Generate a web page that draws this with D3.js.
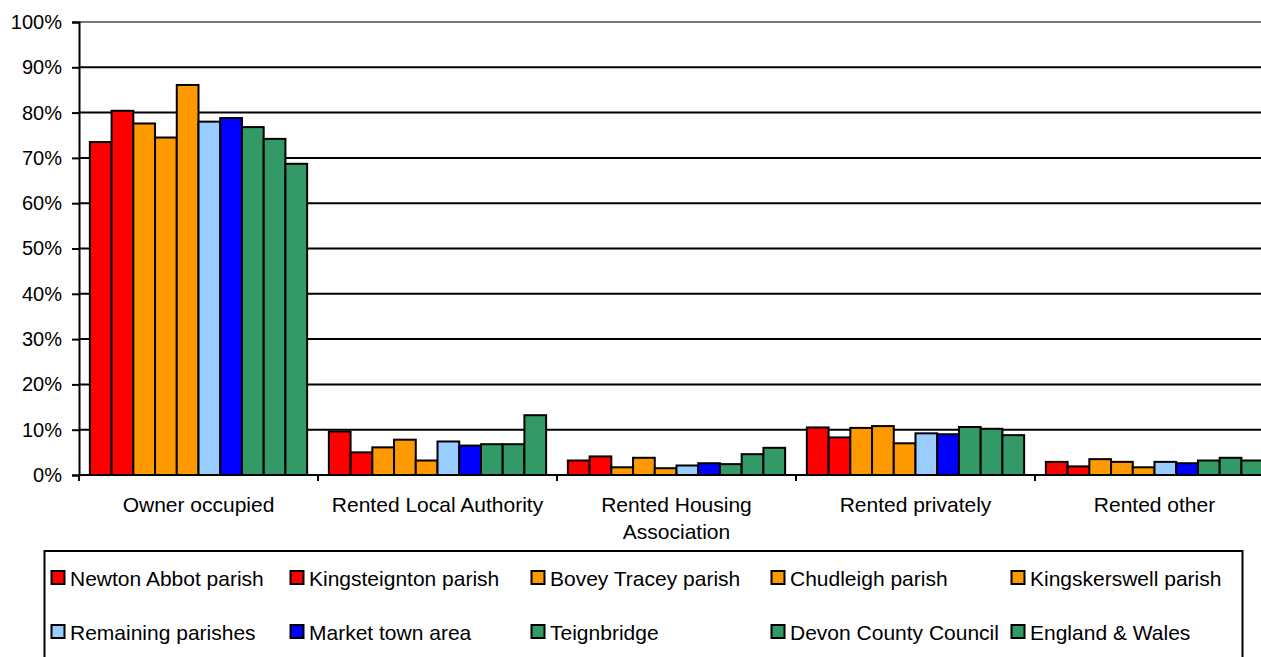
<!DOCTYPE html>
<html>
<head>
<meta charset="utf-8">
<script src="https://cdn.jsdelivr.net/npm/d3@7"></script>
<style>
  html, body { margin: 0; padding: 0; background: #fff; overflow: hidden; }
  text { font-family: "Liberation Sans", Arial, sans-serif; fill: #000; }
</style>
</head>
<body>
<svg id="chart" width="1261" height="657"></svg>
<script>
// ---- data ----
const categories = ["Owner occupied", "Rented Local Authority", "Rented Housing Association", "Rented privately", "Rented other"];
const seriesNames = ["Newton Abbot parish", "Kingsteignton parish", "Bovey Tracey parish", "Chudleigh parish", "Kingskerswell parish",
                     "Remaining parishes", "Market town area", "Teignbridge", "Devon County Council", "England & Wales"];
const seriesColors = ["#FF0000", "#FF0000", "#FF9900", "#FF9900", "#FF9900", "#99CCFF", "#0000FF", "#339966", "#339966", "#339966"];
const newtonAbbot   = [73.5, 9.6, 3.2, 10.5, 2.9];
const kingsteignton = [80.4, 5.0, 4.1, 8.3, 1.9];
const boveyTracey   = [77.6, 6.1, 1.7, 10.4, 3.5];
const chudleigh     = [74.5, 7.8, 3.8, 10.8, 2.9];
const kingskerswell = [86.1, 3.2, 1.5, 7.0, 1.7];
const remaining     = [78.0, 7.4, 2.1, 9.2, 2.9];
const marketTown    = [78.8, 6.5, 2.6, 9.0, 2.6];
const teignbridge   = [76.8, 6.8, 2.4, 10.6, 3.2];
const devon         = [74.2, 6.8, 4.6, 10.2, 3.8];
const englandWales  = [68.7, 13.2, 6.0, 8.8, 3.2];
const seriesValues = [newtonAbbot, kingsteignton, boveyTracey, chudleigh, kingskerswell,
                      remaining, marketTown, teignbridge, devon, englandWales];
const yTicks = [0, 10, 20, 30, 40, 50, 60, 70, 80, 90, 100];

// ---- layout ----
const svg = d3.select("#chart");
const plotLeft = 79, plotTop = 22, plotBottom = 475, groupW = 239;
const plotRight = plotLeft + groupW * categories.length;

const x0 = d3.scaleBand().domain(categories).range([plotLeft, plotRight]).paddingInner(0).paddingOuter(0);
const x1 = d3.scaleBand().domain(d3.range(seriesNames.length)).range([0, x0.bandwidth()])
  .paddingInner(0).paddingOuter(0.5);
const y = d3.scaleLinear().domain([0, 100]).range([plotBottom, plotTop]);

// gridlines
svg.append("g").selectAll("line").data(yTicks.filter(d => d > 0)).join("line")
  .attr("x1", plotLeft).attr("x2", plotRight)
  .attr("y1", d => y(d)).attr("y2", d => y(d))
  .attr("stroke", d => d === 100 ? "#777" : "#000")
  .attr("stroke-width", 2);

// bars
const groups = svg.append("g").selectAll("g").data(categories).join("g")
  .attr("transform", d => `translate(${x0(d)},0)`);
groups.selectAll("rect").data((c, ci) => seriesValues.map((s, si) => ({si, v: s[ci]}))).join("rect")
  .attr("x", d => x1(d.si))
  .attr("width", x1.bandwidth())
  .attr("y", d => y(d.v))
  .attr("height", d => y(0) - y(d.v))
  .attr("fill", d => seriesColors[d.si])
  .attr("stroke", "#000").attr("stroke-width", 2);

// y axis
const yAxis = d3.axisLeft(y).tickValues(yTicks).tickFormat(d => d + "%").tickSize(7).tickPadding(10);
const ga = svg.append("g").attr("transform", `translate(${plotLeft},0)`).call(yAxis);
ga.select(".domain").attr("stroke", "#000").attr("stroke-width", 2);
ga.selectAll(".tick line").attr("stroke", "#000").attr("stroke-width", 2);
ga.selectAll(".tick text").style("font-family", "Liberation Sans, Arial, sans-serif").style("font-size", "20px").attr("fill", "#000");

// x axis line and ticks
const xb = d3.axisBottom(x0).tickSize(0).tickFormat("");
const gx = svg.append("g").attr("transform", `translate(0,${plotBottom})`).call(xb);
gx.select(".domain").attr("stroke", "#000").attr("stroke-width", 2).attr("d", `M${plotLeft},0H${plotRight}`);
svg.append("g").selectAll("line").data(categories.map((c) => x0(c)).concat([plotRight])).join("line")
  .attr("x1", d => d).attr("x2", d => d).attr("y1", plotBottom).attr("y2", plotBottom + 6)
  .attr("stroke", "#000").attr("stroke-width", 2);

// category labels with wrapping
const labelMax = 232;
svg.append("g").selectAll("text").data(categories).join("text")
  .attr("text-anchor", "middle")
  .style("font-size", "21px")
  .each(function(d) {
    const t = d3.select(this);
    const cx = x0(d) + x0.bandwidth() / 2;
    const words = d.split(" ");
    let lines = [], cur = [];
    const tmp = t.append("tspan");
    words.forEach(w => {
      const test = cur.concat([w]).join(" ");
      tmp.text(test);
      if (tmp.node().getComputedTextLength() > labelMax && cur.length) { lines.push(cur.join(" ")); cur = [w]; }
      else cur.push(w);
    });
    lines.push(cur.join(" "));
    tmp.remove();
    lines.forEach((l, i) => t.append("tspan").attr("x", cx).attr("y", 512 + i * 27).text(l));
  });

// legend
svg.append("rect").attr("x", 44.5).attr("y", 551).attr("width", 1198).attr("height", 120)
  .attr("fill", "none").attr("stroke", "#000").attr("stroke-width", 2);
const legendTextX = [[70, 309, 550, 790, 1030], [70, 309, 550, 790, 1030]];
const legendRowY = [578, 632];
const lg = svg.append("g").selectAll("g").data(seriesNames).join("g")
  .attr("transform", (d, i) => {
    const r = Math.floor(i / 5), c = i % 5;
    return `translate(${legendTextX[r][c]},${legendRowY[r]})`;
  });
lg.append("rect").attr("x", -18.5).attr("y", -7).attr("width", 13).attr("height", 13)
  .attr("fill", (d, i) => seriesColors[i]).attr("stroke", "#000").attr("stroke-width", 2);
lg.append("text").attr("x", 0).attr("y", 7.5).style("font-size", "21px").text(d => d);
</script>
</body>
</html>
